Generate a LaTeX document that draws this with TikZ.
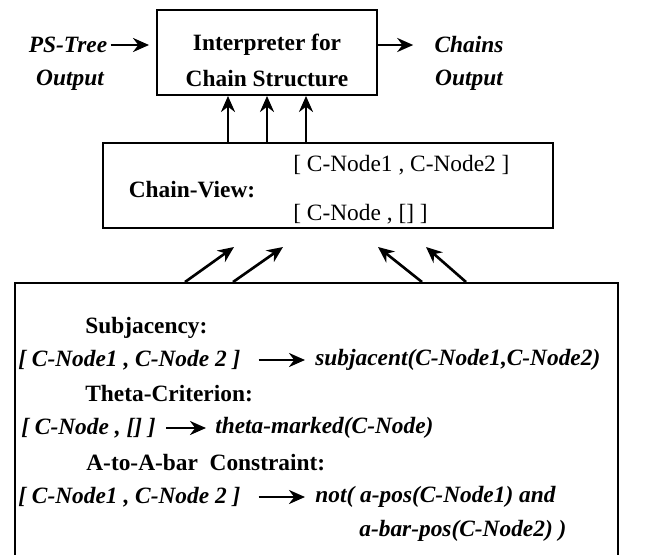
\documentclass[tikz,border=0pt]{standalone}
\usepackage{fontspec}
\setmainfont{Liberation Serif}
\usetikzlibrary{arrows.meta}

\tikzset{
  box/.style={draw, line width=1.1pt, inner sep=0pt},
  txt/.style={inner sep=0pt},
  hdr/.style={inner sep=0pt, font=\bfseries},
  lbl/.style={inner sep=0pt, font=\bfseries\itshape},
  arr/.style={-{Stealth[length=0.32cm,width=0.28cm]}, line width=1.5pt},
}

\begin{document}
\fontsize{13.3}{16}\selectfont
\begin{tikzpicture}
  \useasboundingbox (0,0) rectangle (12.94,-11.08);

  % interpreter
  \node[box, minimum width=4.40cm, minimum height=1.70cm] (interp) at (5.34,-1.05) {};
  \node[hdr] (interp1) at (5.34,-0.90) {Interpreter for};
  \node[hdr] (interp2) at (5.34,-1.58) {Chain Structure};

  % input / output
  \node[lbl] (pstree) at (1.36,-0.90) {PS-Tree};
  \node[lbl] (psout) at (1.40,-1.60) {Output};
  \node[lbl] (chains) at (9.38,-0.90) {Chains};
  \node[lbl] (chout) at (9.38,-1.60) {Output};
  \draw[arr, shorten <=0.06cm, shorten >=0.14cm] (pstree.east) -- (pstree.east -| interp.west);
  \draw[arr, shorten >=0.42cm] (interp.east |- chains) -- (chains.west);

  % chain view
  \node[box, minimum width=9.00cm, minimum height=1.70cm] (cview) at (6.56,-3.71) {};
  \node[hdr] (cvlabel) at (3.84,-3.80) {Chain-View:};
  \node[txt, anchor=west] (cvpair) at (5.86,-3.30) {[ C-Node1 , C-Node2 ]};
  \node[txt, anchor=west] (cvsingle) at (5.86,-4.28) {[ C-Node , [] ]};

  \foreach \x in {4.56, 5.34, 6.12}
    \draw[arr] (\x,0 |- cview.north) -- (\x,0 |- interp.south);

  % rules
  \node[box, minimum width=12.06cm, minimum height=5.94cm] (rules) at (6.33,-8.63) {};
  \foreach \t/\h [count=\i] in {3.70/4.68, 4.66/5.66, 8.44/7.56, 9.32/8.52}{
    \coordinate (head\i) at (\h,-4.94);
    \draw[arr] (\t,0 |- rules.north) -- (head\i);
  }

  \node[hdr, anchor=west] (subj) at (1.70,-6.56) {Subjacency:};
  \node[lbl, anchor=west] (subjl) at (0.36,-7.20) {[ C-Node1 , C-Node 2 ]};
  \node[lbl, anchor=west] (subjr) at (6.30,-7.20) {subjacent(C-Node1,C-Node2)};
  \node[hdr, anchor=west] (theta) at (1.70,-7.88) {Theta-Criterion:};
  \node[lbl, anchor=west] (thetal) at (0.42,-8.56) {[ C-Node , [] ]};
  \node[lbl, anchor=west] (thetar) at (4.30,-8.56) {theta-marked(C-Node)};
  \node[hdr, anchor=west] (abar) at (1.72,-9.26) {A-to-A-bar\ \ Constraint:};
  \node[lbl, anchor=west] (abarl) at (0.36,-9.94) {[ C-Node1 , C-Node 2 ]};
  \node[lbl, anchor=west] (abarr) at (6.30,-9.94) {not( a-pos(C-Node1) and};
  \node[lbl, anchor=west] (abarr2) at (7.18,-10.62) {a-bar-pos(C-Node2) )};

  \draw[arr, shorten <=0.36cm, shorten >=0.2cm] (subjl.east) -- (subjr.west);
  \draw[arr, shorten <=0.2cm, shorten >=0.18cm] (thetal.east) -- (thetar.west);
  \draw[arr, shorten <=0.36cm, shorten >=0.2cm] (abarl.east) -- (abarr.west);
\end{tikzpicture}
\end{document}
